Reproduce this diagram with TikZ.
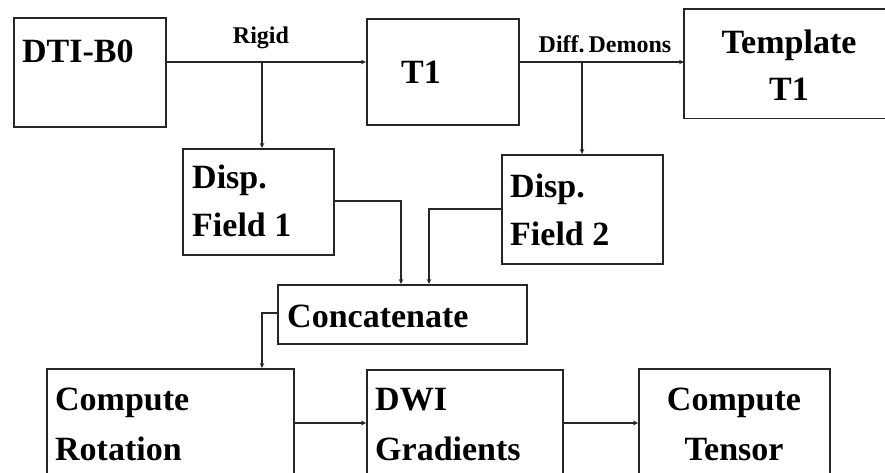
\documentclass[tikz,border=0pt]{standalone}
\usepackage{fontspec}
\setmainfont{Liberation Serif}
\usetikzlibrary{arrows.meta}
\begin{document}
\begin{tikzpicture}[x=1pt,y=-1pt,
  box/.style={draw=black!85, line width=1.6pt, rectangle, inner sep=0pt, anchor=north west},
  edge/.style={draw=black!85, line width=1.6pt},
  txt/.style={font=\fontsize{34}{48}\selectfont\bfseries, inner sep=0pt, anchor=base west},
  lbl/.style={font=\fontsize{24}{28}\selectfont\bfseries, inner sep=0pt, anchor=base},
  arr/.style={draw=black!85, line width=1.2pt, -{Stealth[length=5pt,width=4.5pt]}},
  arrb/.style={draw=black!85, line width=2pt, -{Stealth[length=5pt,width=5pt]}}]
\useasboundingbox (0,0) rectangle (885,472);
\clip (0,0) rectangle (885,472);
% boxes
\node[box, minimum width=152pt, minimum height=109pt] (dti) at (13,17) {};
\node[box, minimum width=152pt, minimum height=106pt] (t1) at (366,18) {};
\node[box, draw=none, minimum width=220pt, minimum height=108pt] (tmpl) at (684,9) {};
\draw[edge] (tmpl.north east) -- (tmpl.north west) -- (tmpl.south west) -- (tmpl.south east);
\node[box, minimum width=151pt, minimum height=106pt] (df1) at (182,148) {};
\node[box, minimum width=161pt, minimum height=109pt] (df2) at (501,154) {};
\node[box, minimum width=249pt, minimum height=59pt] (cat) at (277,284) {};
\node[box, minimum width=247pt, minimum height=130pt] (rot) at (46,368) {};
\node[box, minimum width=196pt, minimum height=130pt] (dwi) at (366,369) {};
\node[box, minimum width=191pt, minimum height=130pt] (ten) at (638,368) {};
% texts
\node[txt] (tdti) at (22,62) {DTI-B0};
\node[txt, anchor=base] (tt1) at (421,83) {T1};
\node[txt, anchor=base] (ttmp1) at (789,53) {Template};
\node[txt, anchor=base] (ttmp2) at (789,100) {T1};
\node[txt] (tdf1a) at (192,188) {Disp.};
\node[txt] (tdf1b) at (192,236) {Field 1};
\node[txt] (tdf2a) at (510,197) {Disp.};
\node[txt] (tdf2b) at (510,245) {Field 2};
\node[txt] (tcat) at (287,327) {Concatenate};
\node[txt] (trot1) at (55,410) {Compute};
\node[txt] (trot2) at (55,460) {Rotation};
\node[txt] (tdwi1) at (375,410) {DWI};
\node[txt] (tdwi2) at (375,460) {Gradients};
\node[txt, anchor=base] (tten1) at (734,410) {Compute};
\node[txt, anchor=base] (tten2) at (734,460) {Tensor};
\node[lbl] (lrigid) at (261,43) {Rigid};
\node[lbl] (ldemons) at (605,52) {Diff.\,Demons};
% junction coordinates
\coordinate (j1) at (262,62);
\coordinate (j2) at (582,62);
\coordinate (k1) at (401,201);
\coordinate (k2) at (429,209);
\coordinate (k3) at (262,313);
\coordinate (k4) at (0,423);
% connectors
\draw[arr] (dti.east |- j1) -- (t1.west |- j1);
\draw[arr] (j1) -- (j1 |- df1.north);
\draw[arr] (t1.east |- j2) -- (tmpl.west |- j2);
\draw[arr] (j2) -- (j2 |- df2.north);
\draw[arr] (df1.east |- k1) -| (k1 |- cat.north);
\draw[arr] (df2.west |- k2) -| (k2 |- cat.north);
\draw[arr] (cat.west |- k3) -| (k3 |- rot.north);
\draw[arrb] (rot.east |- k4) -- (dwi.west |- k4);
\draw[arrb] (dwi.east |- k4) -- (ten.west |- k4);
\end{tikzpicture}
\end{document}
